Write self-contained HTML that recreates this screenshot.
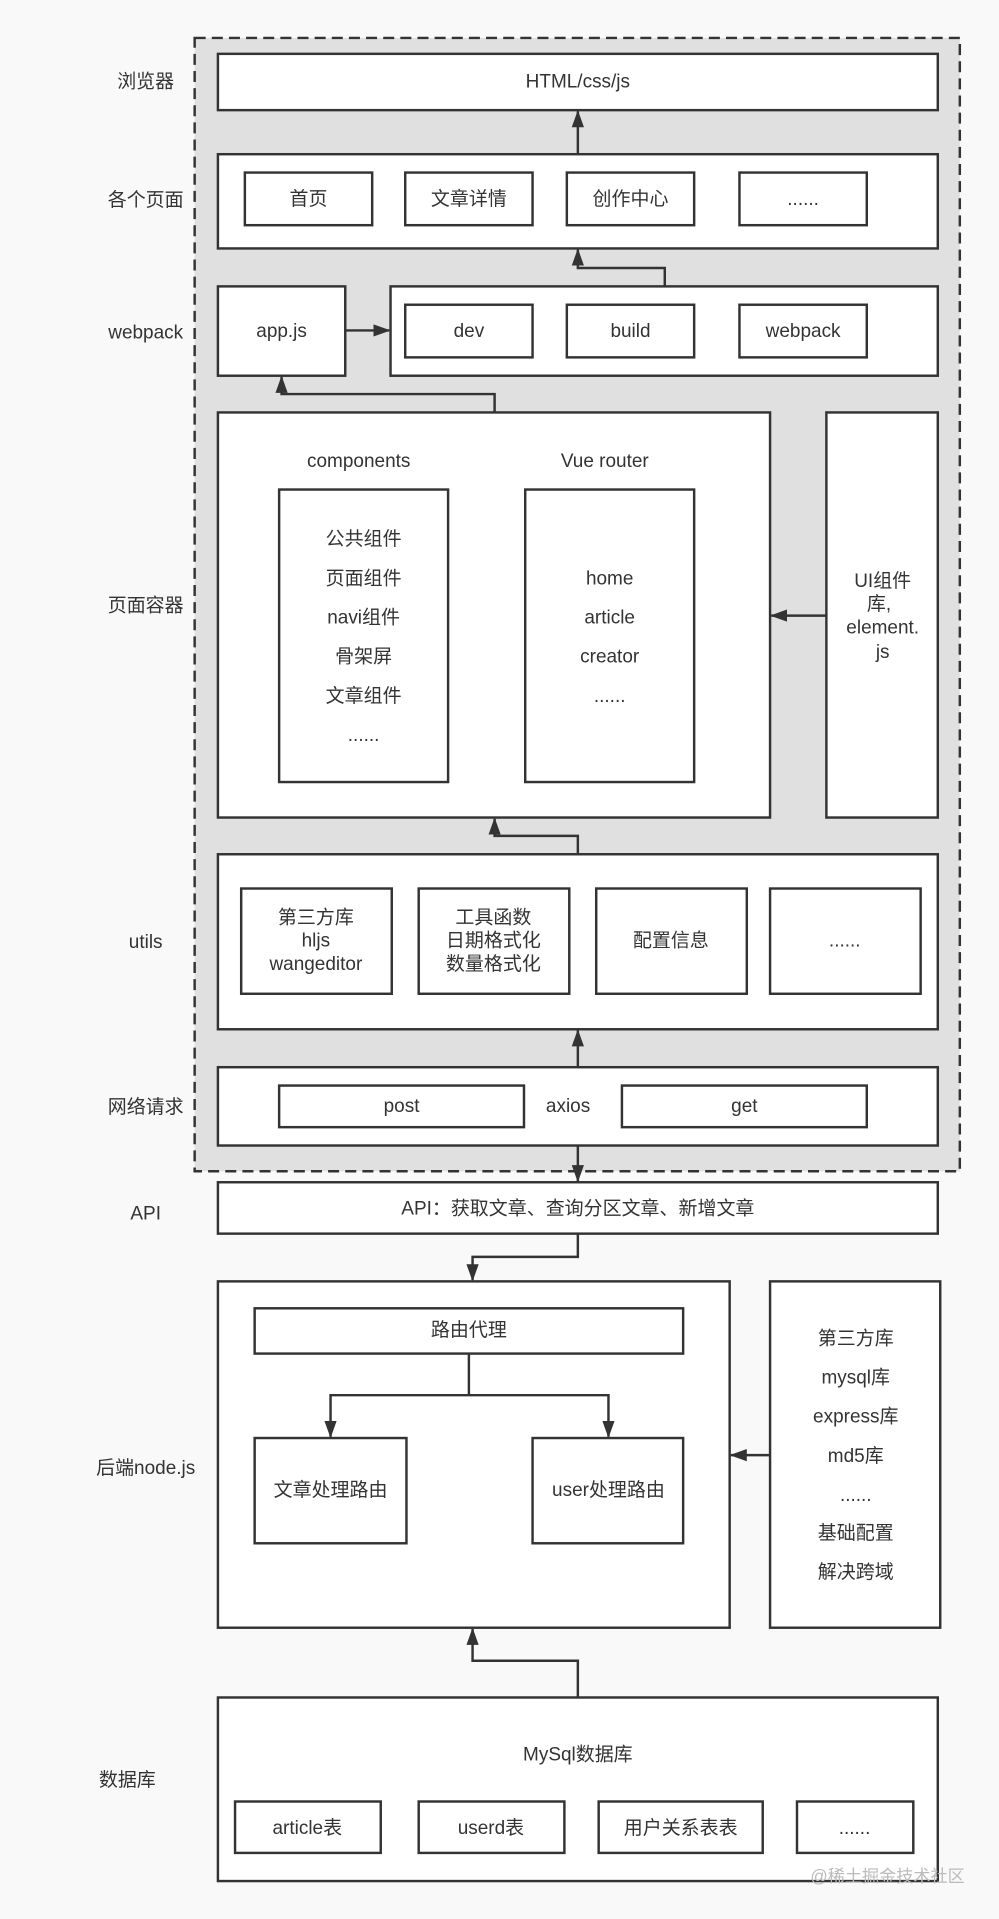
<!DOCTYPE html>
<html><head><meta charset="utf-8">
<style>
html,body{margin:0;padding:0;background:#f9f9f9;}
svg{display:block;}
text{font-family:"Liberation Sans","Noto Sans CJK SC",sans-serif;font-size:15.5px;fill:#333;text-anchor:middle;dominant-baseline:central;}
.b{fill:#fff;stroke:#333;stroke-width:2;}
.l{fill:none;stroke:#333;stroke-width:2;}
</style></head><body>
<svg width="999" height="1919" viewBox="0 0 816 1568" preserveAspectRatio="none">
<defs><marker id="a" viewBox="0 0 14 10" refX="13" refY="5" markerWidth="14" markerHeight="10" orient="auto-start-reverse" markerUnits="userSpaceOnUse"><path d="M0,0L14,5L0,10z" fill="#333"/></marker></defs>
<rect x="0" y="0" width="816" height="1568" fill="#f9f9f9"/>
<rect x="159" y="31" width="625" height="926" fill="#e0e0e0" stroke="#333" stroke-width="2" stroke-dasharray="9,5"/>
<text x="119" y="67">浏览器</text>
<text x="119" y="164">各个页面</text>
<text x="119" y="272">webpack</text>
<text x="119" y="495">页面容器</text>
<text x="119" y="770">utils</text>
<text x="119" y="905">网络请求</text>
<text x="119" y="992">API</text>
<text x="119" y="1200">后端node.js</text>
<text x="104" y="1455">数据库</text>

<rect class="b" x="178" y="44" width="588" height="46"/><text x="472" y="67">HTML/css/js</text>
<path class="l" d="M472,126V91" marker-end="url(#a)"/>
<rect class="b" x="178" y="126" width="588" height="77"/>
<rect class="b" x="200" y="141" width="104" height="43"/><text x="252" y="163">首页</text>
<rect class="b" x="331" y="141" width="104" height="43"/><text x="383" y="163">文章详情</text>
<rect class="b" x="463" y="141" width="104" height="43"/><text x="515" y="163">创作中心</text>
<rect class="b" x="604" y="141" width="104" height="43"/><text x="656" y="163">......</text>
<path class="l" d="M543,234V219H472V204" marker-end="url(#a)"/>
<rect class="b" x="178" y="234" width="104" height="73"/><text x="230" y="271">app.js</text>
<path class="l" d="M282,270H318" marker-end="url(#a)"/>
<rect class="b" x="319" y="234" width="447" height="73"/>
<rect class="b" x="331" y="249" width="104" height="43"/><text x="383" y="271">dev</text>
<rect class="b" x="463" y="249" width="104" height="43"/><text x="515" y="271">build</text>
<rect class="b" x="604" y="249" width="104" height="43"/><text x="656" y="271">webpack</text>
<path class="l" d="M404,337V322H230V308" marker-end="url(#a)"/>
<rect class="b" x="178" y="337" width="451" height="331"/>
<text x="293" y="377">components</text><text x="494" y="377">Vue router</text>
<rect class="b" x="228" y="400" width="138" height="239"/>
<text x="297" y="441">公共组件</text><text x="297" y="473">页面组件</text><text x="297" y="505">navi组件</text><text x="297" y="537">骨架屏</text><text x="297" y="569">文章组件</text><text x="297" y="601">......</text>
<rect class="b" x="429" y="400" width="138" height="239"/>
<text x="498" y="473">home</text><text x="498" y="505">article</text><text x="498" y="537">creator</text><text x="498" y="569">......</text>
<rect class="b" x="675" y="337" width="91" height="331"/>
<text x="721" y="475">UI组件</text><text x="718" y="494">库,</text><text x="721" y="513">element.</text><text x="721" y="533">js</text>
<path class="l" d="M675,503H630" marker-end="url(#a)"/>
<path class="l" d="M472,698V683H404V669" marker-end="url(#a)"/>
<rect class="b" x="178" y="698" width="588" height="143"/>
<rect class="b" x="197" y="726" width="123" height="86"/><text x="258" y="750">第三方库</text><text x="258" y="769">hljs</text><text x="258" y="788">wangeditor</text>
<rect class="b" x="342" y="726" width="123" height="86"/><text x="403" y="750">工具函数</text><text x="403" y="769">日期格式化</text><text x="403" y="788">数量格式化</text>
<rect class="b" x="487" y="726" width="123" height="86"/><text x="548" y="769">配置信息</text>
<rect class="b" x="629" y="726" width="123" height="86"/><text x="690" y="769">......</text>
<path class="l" d="M472,872V842" marker-end="url(#a)"/>
<rect class="b" x="178" y="872" width="588" height="64"/>
<rect class="b" x="228" y="887" width="200" height="34"/><text x="328" y="904">post</text>
<text x="464" y="904">axios</text>
<rect class="b" x="508" y="887" width="200" height="34"/><text x="608" y="904">get</text>
<path class="l" d="M472,936V965" marker-end="url(#a)"/>
<rect class="b" x="178" y="966" width="588" height="42"/><text x="472" y="988">API：获取文章、查询分区文章、新增文章</text>
<path class="l" d="M472,1008V1027H386V1046" marker-end="url(#a)"/>
<rect class="b" x="178" y="1047" width="418" height="283"/>
<rect class="b" x="208" y="1069" width="350" height="37"/><text x="383" y="1087">路由代理</text>
<path class="l" d="M383,1106V1140"/>
<path class="l" d="M383,1140H270V1174" marker-end="url(#a)"/>
<path class="l" d="M383,1140H497V1174" marker-end="url(#a)"/>
<rect class="b" x="208" y="1175" width="124" height="86"/><text x="270" y="1218">文章处理路由</text>
<rect class="b" x="435" y="1175" width="123" height="86"/><text x="497" y="1218">user处理路由</text>
<rect class="b" x="629" y="1047" width="139" height="283"/>
<text x="699" y="1094">第三方库</text><text x="699" y="1126">mysql库</text><text x="699" y="1158">express库</text><text x="699" y="1190">md5库</text><text x="699" y="1222">......</text><text x="699" y="1253">基础配置</text><text x="699" y="1285">解决跨域</text>
<path class="l" d="M629,1189H597" marker-end="url(#a)"/>
<path class="l" d="M472,1387V1357H386V1331" marker-end="url(#a)"/>
<rect class="b" x="178" y="1387" width="588" height="150"/>
<text x="472" y="1434">MySql数据库</text>
<rect class="b" x="192" y="1472" width="119" height="42"/><text x="251" y="1494">article表</text>
<rect class="b" x="342" y="1472" width="119" height="42"/><text x="401" y="1494">userd表</text>
<rect class="b" x="489" y="1472" width="134" height="42"/><text x="556" y="1494">用户关系表表</text>
<rect class="b" x="651" y="1472" width="95" height="42"/><text x="698" y="1494">......</text>
<text x="725" y="1533" style="fill:#bbb;font-size:14px">@稀土掘金技术社区</text>
</svg>
</body></html>
